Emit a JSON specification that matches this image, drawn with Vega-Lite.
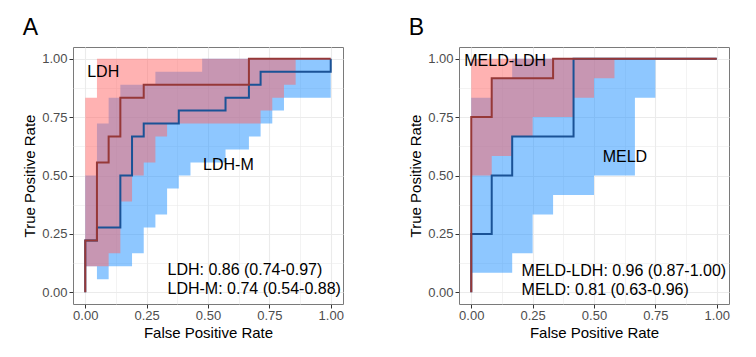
{
  "$schema": "https://vega.github.io/schema/vega-lite/v6.json",
  "padding": {"left": 22, "top": 16, "right": 5, "bottom": 5},
  "spacing": 64,
  "config": {
    "font": "Liberation Sans",
    "view": {"stroke": "#7a7a7a", "strokeWidth": 1},
    "axis": {
      "domain": false,
      "gridColor": "#EBEBEB",
      "tickColor": "#333333",
      "tickSize": 4,
      "tickWidth": 1,
      "labelColor": "#4D4D4D",
      "labelFontSize": 13,
      "labelFont": "Liberation Sans",
      "labelFlush": false,
      "labelOverlap": false,
      "titleFont": "Liberation Sans",
      "titleFontSize": 15,
      "titleFontWeight": "normal",
      "titleColor": "black"
    },
    "title": {"fontSize": 23, "font": "Liberation Sans", "fontWeight": "normal", "anchor": "start", "frame": "bounds", "color": "black", "offset": 7}
  },
  "datasets": {
    "ribA": [
      {"s": "LDH-M", "x": 0, "y": 0.1111, "y2": 0.5},
      {"s": "LDH-M", "x": 0.0476, "y": 0.0556, "y2": 0.7222},
      {"s": "LDH-M", "x": 0.0952, "y": 0.1111, "y2": 0.8333},
      {"s": "LDH-M", "x": 0.1429, "y": 0.1111, "y2": 0.8889},
      {"s": "LDH-M", "x": 0.1905, "y": 0.1667, "y2": 0.8889},
      {"s": "LDH-M", "x": 0.2381, "y": 0.2778, "y2": 0.8889},
      {"s": "LDH-M", "x": 0.2857, "y": 0.3333, "y2": 0.9444},
      {"s": "LDH-M", "x": 0.3333, "y": 0.4444, "y2": 0.9444},
      {"s": "LDH-M", "x": 0.381, "y": 0.5, "y2": 0.9444},
      {"s": "LDH-M", "x": 0.4286, "y": 0.5556, "y2": 0.9444},
      {"s": "LDH-M", "x": 0.4762, "y": 0.5556, "y2": 1},
      {"s": "LDH-M", "x": 0.5238, "y": 0.5556, "y2": 1},
      {"s": "LDH-M", "x": 0.5714, "y": 0.6111, "y2": 1},
      {"s": "LDH-M", "x": 0.619, "y": 0.6111, "y2": 1},
      {"s": "LDH-M", "x": 0.6667, "y": 0.6667, "y2": 1},
      {"s": "LDH-M", "x": 0.7143, "y": 0.7222, "y2": 1},
      {"s": "LDH-M", "x": 0.7619, "y": 0.7778, "y2": 1},
      {"s": "LDH-M", "x": 0.8095, "y": 0.8333, "y2": 1},
      {"s": "LDH-M", "x": 0.8571, "y": 0.8333, "y2": 1},
      {"s": "LDH-M", "x": 0.9048, "y": 0.8333, "y2": 1},
      {"s": "LDH-M", "x": 0.9524, "y": 0.8333, "y2": 1},
      {"s": "LDH-M", "x": 1, "y": 0.8333, "y2": 1},
      {"s": "LDH", "x": 0, "y": 0.1111, "y2": 0.8333},
      {"s": "LDH", "x": 0.0476, "y": 0.1111, "y2": 1},
      {"s": "LDH", "x": 0.0952, "y": 0.1667, "y2": 1},
      {"s": "LDH", "x": 0.1429, "y": 0.3889, "y2": 1},
      {"s": "LDH", "x": 0.1905, "y": 0.5, "y2": 1},
      {"s": "LDH", "x": 0.2381, "y": 0.5556, "y2": 1},
      {"s": "LDH", "x": 0.2857, "y": 0.6667, "y2": 1},
      {"s": "LDH", "x": 0.3333, "y": 0.7222, "y2": 1},
      {"s": "LDH", "x": 0.381, "y": 0.7222, "y2": 1},
      {"s": "LDH", "x": 0.4286, "y": 0.7222, "y2": 1},
      {"s": "LDH", "x": 0.4762, "y": 0.7222, "y2": 1},
      {"s": "LDH", "x": 0.5238, "y": 0.7222, "y2": 1},
      {"s": "LDH", "x": 0.5714, "y": 0.7222, "y2": 1},
      {"s": "LDH", "x": 0.619, "y": 0.7222, "y2": 1},
      {"s": "LDH", "x": 0.6667, "y": 0.7222, "y2": 1},
      {"s": "LDH", "x": 0.7143, "y": 0.7778, "y2": 1},
      {"s": "LDH", "x": 0.7619, "y": 0.8333, "y2": 1},
      {"s": "LDH", "x": 0.8095, "y": 0.8889, "y2": 1},
      {"s": "LDH", "x": 0.8571, "y": 1, "y2": 1},
      {"s": "LDH", "x": 0.9048, "y": 1, "y2": 1},
      {"s": "LDH", "x": 0.9524, "y": 1, "y2": 1},
      {"s": "LDH", "x": 1, "y": 1, "y2": 1}
    ],
    "lineA": [
      {"s": "LDH", "i": 0, "x": 0, "y": 0},
      {"s": "LDH", "i": 1, "x": 0, "y": 0.2222},
      {"s": "LDH", "i": 2, "x": 0.0476, "y": 0.2222},
      {"s": "LDH", "i": 3, "x": 0.0476, "y": 0.5556},
      {"s": "LDH", "i": 4, "x": 0.0952, "y": 0.5556},
      {"s": "LDH", "i": 5, "x": 0.0952, "y": 0.6667},
      {"s": "LDH", "i": 6, "x": 0.1429, "y": 0.6667},
      {"s": "LDH", "i": 7, "x": 0.1429, "y": 0.8333},
      {"s": "LDH", "i": 8, "x": 0.2381, "y": 0.8333},
      {"s": "LDH", "i": 9, "x": 0.2381, "y": 0.8889},
      {"s": "LDH", "i": 10, "x": 0.6667, "y": 0.8889},
      {"s": "LDH", "i": 11, "x": 0.6667, "y": 1},
      {"s": "LDH", "i": 12, "x": 1, "y": 1},
      {"s": "LDH-M", "i": 0, "x": 0, "y": 0},
      {"s": "LDH-M", "i": 1, "x": 0, "y": 0.2222},
      {"s": "LDH-M", "i": 2, "x": 0.0476, "y": 0.2222},
      {"s": "LDH-M", "i": 3, "x": 0.0476, "y": 0.2778},
      {"s": "LDH-M", "i": 4, "x": 0.1429, "y": 0.2778},
      {"s": "LDH-M", "i": 5, "x": 0.1429, "y": 0.5},
      {"s": "LDH-M", "i": 6, "x": 0.1905, "y": 0.5},
      {"s": "LDH-M", "i": 7, "x": 0.1905, "y": 0.6667},
      {"s": "LDH-M", "i": 8, "x": 0.2381, "y": 0.6667},
      {"s": "LDH-M", "i": 9, "x": 0.2381, "y": 0.7222},
      {"s": "LDH-M", "i": 10, "x": 0.381, "y": 0.7222},
      {"s": "LDH-M", "i": 11, "x": 0.381, "y": 0.7778},
      {"s": "LDH-M", "i": 12, "x": 0.5714, "y": 0.7778},
      {"s": "LDH-M", "i": 13, "x": 0.5714, "y": 0.8333},
      {"s": "LDH-M", "i": 14, "x": 0.6667, "y": 0.8333},
      {"s": "LDH-M", "i": 15, "x": 0.6667, "y": 0.8889},
      {"s": "LDH-M", "i": 16, "x": 0.7143, "y": 0.8889},
      {"s": "LDH-M", "i": 17, "x": 0.7143, "y": 0.9444},
      {"s": "LDH-M", "i": 18, "x": 1, "y": 0.9444},
      {"s": "LDH-M", "i": 19, "x": 1, "y": 1}
    ],
    "textA": [
      {"label": "LDH", "x": 0.073, "y": 0.922, "a": "center"},
      {"label": "LDH-M", "x": 0.583, "y": 0.525, "a": "center"},
      {"label": "LDH: 0.86 (0.74-0.97)", "x": 0.335, "y": 0.072, "a": "left"},
      {"label": "LDH-M: 0.74 (0.54-0.88)", "x": 0.335, "y": -0.007, "a": "left"}
    ],
    "ribB": [
      {"s": "MELD", "x": 0, "y": 0.0833, "y2": 0.8333},
      {"s": "MELD", "x": 0.0833, "y": 0.0833, "y2": 0.9167},
      {"s": "MELD", "x": 0.1667, "y": 0.1667, "y2": 1},
      {"s": "MELD", "x": 0.25, "y": 0.3333, "y2": 1},
      {"s": "MELD", "x": 0.3333, "y": 0.4167, "y2": 1},
      {"s": "MELD", "x": 0.4167, "y": 0.4167, "y2": 1},
      {"s": "MELD", "x": 0.5, "y": 0.5, "y2": 1},
      {"s": "MELD", "x": 0.5833, "y": 0.5, "y2": 1},
      {"s": "MELD", "x": 0.6667, "y": 0.8333, "y2": 1},
      {"s": "MELD", "x": 0.75, "y": 1, "y2": 1},
      {"s": "MELD", "x": 0.8333, "y": 1, "y2": 1},
      {"s": "MELD", "x": 0.9167, "y": 1, "y2": 1},
      {"s": "MELD", "x": 1, "y": 1, "y2": 1},
      {"s": "MELD-LDH", "x": 0, "y": 0.5, "y2": 1},
      {"s": "MELD-LDH", "x": 0.0833, "y": 0.5833, "y2": 1},
      {"s": "MELD-LDH", "x": 0.1667, "y": 0.6667, "y2": 1},
      {"s": "MELD-LDH", "x": 0.25, "y": 0.75, "y2": 1},
      {"s": "MELD-LDH", "x": 0.3333, "y": 0.75, "y2": 1},
      {"s": "MELD-LDH", "x": 0.4167, "y": 0.8333, "y2": 1},
      {"s": "MELD-LDH", "x": 0.5, "y": 0.9167, "y2": 1},
      {"s": "MELD-LDH", "x": 0.5833, "y": 1, "y2": 1},
      {"s": "MELD-LDH", "x": 0.6667, "y": 1, "y2": 1},
      {"s": "MELD-LDH", "x": 0.75, "y": 1, "y2": 1},
      {"s": "MELD-LDH", "x": 0.8333, "y": 1, "y2": 1},
      {"s": "MELD-LDH", "x": 0.9167, "y": 1, "y2": 1},
      {"s": "MELD-LDH", "x": 1, "y": 1, "y2": 1}
    ],
    "lineB": [
      {"s": "MELD-LDH", "i": 0, "x": 0, "y": 0},
      {"s": "MELD-LDH", "i": 1, "x": 0, "y": 0.75},
      {"s": "MELD-LDH", "i": 2, "x": 0.0833, "y": 0.75},
      {"s": "MELD-LDH", "i": 3, "x": 0.0833, "y": 0.9167},
      {"s": "MELD-LDH", "i": 4, "x": 0.3333, "y": 0.9167},
      {"s": "MELD-LDH", "i": 5, "x": 0.3333, "y": 1},
      {"s": "MELD-LDH", "i": 6, "x": 1, "y": 1},
      {"s": "MELD", "i": 0, "x": 0, "y": 0},
      {"s": "MELD", "i": 1, "x": 0, "y": 0.25},
      {"s": "MELD", "i": 2, "x": 0.0833, "y": 0.25},
      {"s": "MELD", "i": 3, "x": 0.0833, "y": 0.5},
      {"s": "MELD", "i": 4, "x": 0.1667, "y": 0.5},
      {"s": "MELD", "i": 5, "x": 0.1667, "y": 0.6667},
      {"s": "MELD", "i": 6, "x": 0.4167, "y": 0.6667},
      {"s": "MELD", "i": 7, "x": 0.4167, "y": 1},
      {"s": "MELD", "i": 8, "x": 1, "y": 1}
    ],
    "textB": [
      {"label": "MELD-LDH", "x": 0.138, "y": 0.967, "a": "center"},
      {"label": "MELD", "x": 0.626, "y": 0.556, "a": "center"},
      {"label": "MELD-LDH: 0.96 (0.87-1.00)", "x": 0.205, "y": 0.0685, "a": "left"},
      {"label": "MELD: 0.81 (0.63-0.96)", "x": 0.205, "y": -0.0098, "a": "left"}
    ]
  },
  "hconcat": [
    {
      "width": 270,
      "height": 257,
      "title": "A",
      "encoding": {
        "x": {"field": "x", "type": "quantitative", "scale": {"domain": [-0.05, 1.05], "nice": false, "zero": false},
          "axis": {"title": "False Positive Rate", "values": [0, 0.125, 0.25, 0.375, 0.5, 0.625, 0.75, 0.875, 1],
            "labelExpr": "datum.value % 0.25 == 0 ? format(datum.value, '.2f') : ''",
            "gridWidth": {"condition": {"test": "datum.value % 0.25 != 0", "value": 0.6}, "value": 1.1},
            "tickOpacity": {"condition": {"test": "datum.value % 0.25 != 0", "value": 0}, "value": 1},
            "labelPadding": 1, "titlePadding": 3}},
        "y": {"field": "y", "type": "quantitative", "scale": {"domain": [-0.05, 1.05], "nice": false, "zero": false},
          "axis": {"title": "True Positive Rate", "values": [0, 0.125, 0.25, 0.375, 0.5, 0.625, 0.75, 0.875, 1],
            "labelExpr": "datum.value % 0.25 == 0 ? format(datum.value, '.2f') : ''",
            "gridWidth": {"condition": {"test": "datum.value % 0.25 != 0", "value": 0.6}, "value": 1.1},
            "tickOpacity": {"condition": {"test": "datum.value % 0.25 != 0", "value": 0}, "value": 1},
            "labelPadding": 2, "titlePadding": 4}}
      },
      "layer": [
        {"data": {"name": "ribA"}, "transform": [{"filter": "datum.s == 'LDH-M'"}],
          "mark": {"type": "area", "interpolate": "step-after", "color": "#1E90FF", "opacity": 0.5},
          "encoding": {"y2": {"field": "y2"}}},
        {"data": {"name": "ribA"}, "transform": [{"filter": "datum.s == 'LDH'"}],
          "mark": {"type": "area", "interpolate": "step-after", "color": "#FF6666", "opacity": 0.5},
          "encoding": {"y2": {"field": "y2"}}},
        {"data": {"name": "lineA"}, "transform": [{"filter": "datum.s == 'LDH-M'"}],
          "mark": {"type": "line", "color": "#1A5296", "strokeWidth": 2},
          "encoding": {"order": {"field": "i"}}},
        {"data": {"name": "lineA"}, "transform": [{"filter": "datum.s == 'LDH'"}],
          "mark": {"type": "line", "color": "#963838", "strokeWidth": 2},
          "encoding": {"order": {"field": "i"}}},
        {"data": {"name": "textA"}, "transform": [{"filter": "datum.a == 'center'"}],
          "mark": {"type": "text", "fontSize": 16, "baseline": "alphabetic", "align": "center", "color": "black", "font": "Liberation Sans"},
          "encoding": {"text": {"field": "label"}}},
        {"data": {"name": "textA"}, "transform": [{"filter": "datum.a == 'left'"}],
          "mark": {"type": "text", "fontSize": 16, "baseline": "alphabetic", "align": "left", "color": "black", "font": "Liberation Sans"},
          "encoding": {"text": {"field": "label"}}}
      ]
    },
    {
      "width": 270,
      "height": 257,
      "title": "B",
      "encoding": {
        "x": {"field": "x", "type": "quantitative", "scale": {"domain": [-0.05, 1.05], "nice": false, "zero": false},
          "axis": {"title": "False Positive Rate", "values": [0, 0.125, 0.25, 0.375, 0.5, 0.625, 0.75, 0.875, 1],
            "labelExpr": "datum.value % 0.25 == 0 ? format(datum.value, '.2f') : ''",
            "gridWidth": {"condition": {"test": "datum.value % 0.25 != 0", "value": 0.6}, "value": 1.1},
            "tickOpacity": {"condition": {"test": "datum.value % 0.25 != 0", "value": 0}, "value": 1},
            "labelPadding": 1, "titlePadding": 3}},
        "y": {"field": "y", "type": "quantitative", "scale": {"domain": [-0.05, 1.05], "nice": false, "zero": false},
          "axis": {"title": "True Positive Rate", "values": [0, 0.125, 0.25, 0.375, 0.5, 0.625, 0.75, 0.875, 1],
            "labelExpr": "datum.value % 0.25 == 0 ? format(datum.value, '.2f') : ''",
            "gridWidth": {"condition": {"test": "datum.value % 0.25 != 0", "value": 0.6}, "value": 1.1},
            "tickOpacity": {"condition": {"test": "datum.value % 0.25 != 0", "value": 0}, "value": 1},
            "labelPadding": 2, "titlePadding": 4}}
      },
      "layer": [
        {"data": {"name": "ribB"}, "transform": [{"filter": "datum.s == 'MELD'"}],
          "mark": {"type": "area", "interpolate": "step-after", "color": "#1E90FF", "opacity": 0.5},
          "encoding": {"y2": {"field": "y2"}}},
        {"data": {"name": "ribB"}, "transform": [{"filter": "datum.s == 'MELD-LDH'"}],
          "mark": {"type": "area", "interpolate": "step-after", "color": "#FF6666", "opacity": 0.5},
          "encoding": {"y2": {"field": "y2"}}},
        {"data": {"name": "lineB"}, "transform": [{"filter": "datum.s == 'MELD'"}],
          "mark": {"type": "line", "color": "#1A5296", "strokeWidth": 2},
          "encoding": {"order": {"field": "i"}}},
        {"data": {"name": "lineB"}, "transform": [{"filter": "datum.s == 'MELD-LDH'"}],
          "mark": {"type": "line", "color": "#963838", "strokeWidth": 2},
          "encoding": {"order": {"field": "i"}}},
        {"data": {"name": "textB"}, "transform": [{"filter": "datum.a == 'center'"}],
          "mark": {"type": "text", "fontSize": 16, "baseline": "alphabetic", "align": "center", "color": "black", "font": "Liberation Sans"},
          "encoding": {"text": {"field": "label"}}},
        {"data": {"name": "textB"}, "transform": [{"filter": "datum.a == 'left'"}],
          "mark": {"type": "text", "fontSize": 16, "baseline": "alphabetic", "align": "left", "color": "black", "font": "Liberation Sans"},
          "encoding": {"text": {"field": "label"}}}
      ]
    }
  ]
}
